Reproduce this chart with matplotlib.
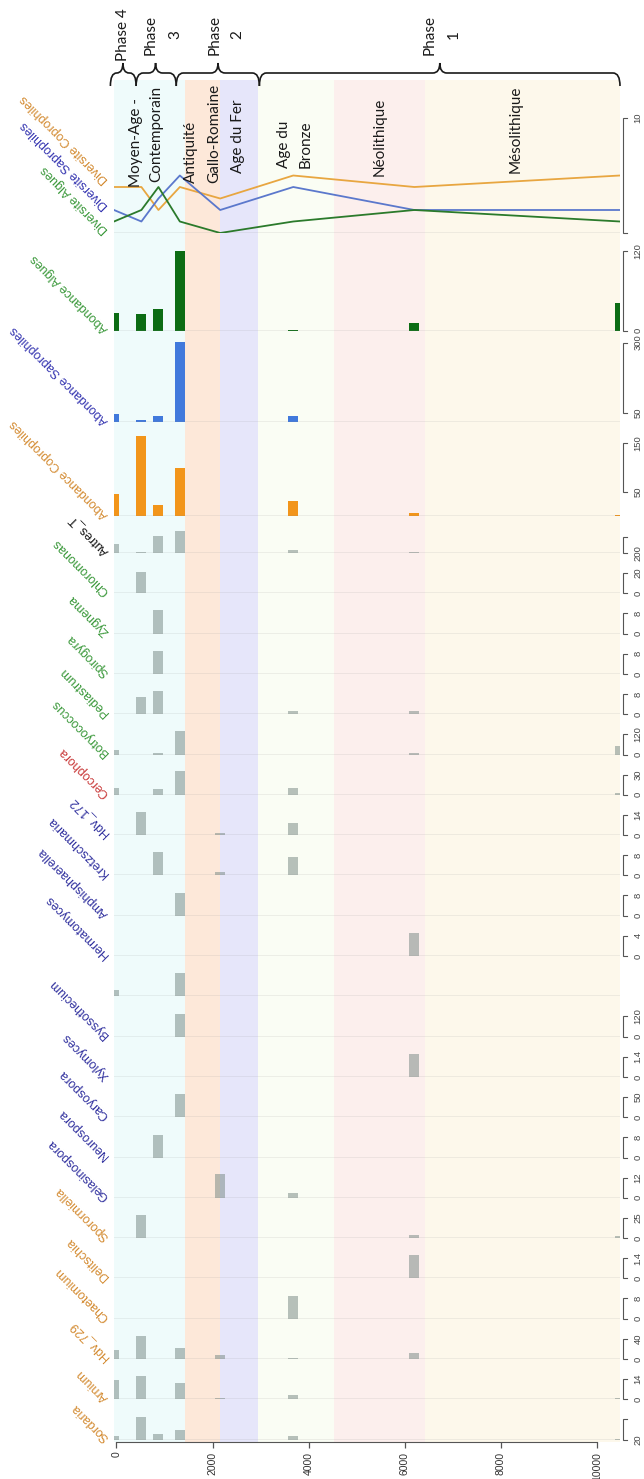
import matplotlib
matplotlib.use("Agg")
import matplotlib.pyplot as plt
import matplotlib.transforms as mtransforms
from matplotlib.path import Path
from matplotlib.patches import PathPatch

# ---------------------------------------------------------------- data
ages = [-50, 520, 875, 1320, 2160, 3680, 6200, 10480]   # cal BP of the samples
AGE_MIN, AGE_MAX = -50, 10480

period_edges = [-50, 1430, 2150, 2940, 4520, 6425, 10480]
period_colors = ["#effbfb", "#fde8d9", "#e6e6fa", "#fafdf4", "#fcefed", "#fdf8eb"]

# period captions: (text, age of the line, bottom of the text in px)
period_lines = [("Moyen-Age -", 400, 187), ("Contemporain", 824, 182),
                ("Antiquité", 1552, 183), ("Gallo-Romaine", 2031, 183),
                ("Age du Fer", 2530, 173),
                ("Age du", 3480, 168), ("Bronze", 3946, 168),
                ("Néolithique", 5486, 176), ("Mésolithique", 8316, 173)]

phase_spans = [(-125, 410), (410, 1245), (1245, 2975), (2975, 10480)]
phase_tips = [135, 815, 2115, 6730]
phase_lines = [("Phase 4", 127), ("Phase", 720), ("3", 1219), ("Phase", 2041),
               ("2", 2522), ("Phase", 6516), ("1", 7026)]

div_copro = [4, 4, 2, 4, 3, 5, 4, 5]
div_sapro = [2, 1, 3, 5, 2, 4, 2, 2]
div_algues = [1, 2, 4, 1, 0, 1, 2, 1]

abond_algues = [26, 24.5, 33, 120, 0, 0.7, 11.5, 42]
abond_sapro = [44, 25, 37, 302, 0, 39, 18, 0]
abond_copro = [45, 166, 23, 99, 0, 32, 6, 2]
autres_t = [116, 16, 212, 279, 0, 41, 16, 0]

chloromonas = [0, 21, 0, 0, 0, 0, 0, 0]
zygnema = [0, 0, 9.2, 0, 0, 0, 0, 0]
spirogyra = [0, 0, 9.2, 0, 0, 0, 0, 0]
pediastrum = [0, 6.7, 9.1, 0, 0, 1.3, 1.3, 0]
botryococcus = [28, 0, 6, 138, 0, 0, 8, 49]
cercophora = [10, 0, 8, 34.5, 0, 10.5, 0, 2]
hdv_172 = [0, 15.9, 0, 0, 1.2, 8.4, 0, 0]
kretzschmaria = [0, 0, 9.2, 0, 1.3, 7.3, 0, 0]
amphisphaerella = [0, 0, 0, 9.1, 0, 0, 0, 0]
hermatomyces = [0, 0, 0, 0, 0, 0, 4.5, 0]
sans_nom = [2.4, 0, 0, 9.1, 0, 0.1, 0, 0]
byssothecium = [0, 0, 0, 134, 0, 0, 0, 0]
xylomyces = [0, 0, 0, 0, 0, 0, 1.59, 0]
caryospora = [0, 0, 0, 56.7, 0, 0, 0, 0]
neurospora = [0, 0, 8.9, 0, 0, 0, 0, 0]
gelasinospora = [0, 0, 0, 0, 14, 3, 0, 0]
sporormiella = [0, 28.3, 0, 0, 0, 0, 4.2, 2]
delitschia = [0, 0, 0, 0, 0, 0, 1.59, 0]
chaetomium = [0, 0, 0, 0, 0, 9.1, 0, 0]
hdv_729 = [18.7, 46, 0, 21.3, 8.7, 2, 11.3, 0]
arnium = [13.3, 15.9, 0, 11.2, 1.2, 3.3, 0, 1]
sordaria = [3.3, 22.7, 6, 9.3, 0, 3.3, 0, 0.5]

# ---------------------------------------------------------------- style
ORANGE, BLUE, GREEN, RED, BLACK = "#d38a30", "#30309e", "#3a983a", "#c93a3a", "#111111"
BAR_GREY = (0.45, 0.52, 0.50, 0.50)
BASE_GREY = "#8c8c8c"
SANS = ["Liberation Sans", "DejaVu Sans"]
CAPTION = ["Lato", "DejaVu Sans"]

# small taxa strips, top to bottom: (label, values, label colour, scale top)
taxa = [("Chloromonas", chloromonas, GREEN, 20), ("Zygnema", zygnema, GREEN, 8),
        ("Spirogyra", spirogyra, GREEN, 8), ("Pediastrum", pediastrum, GREEN, 8),
        ("Botryococcus", botryococcus, GREEN, 120), ("Cercophora", cercophora, RED, 30),
        ("Hdv_172", hdv_172, BLUE, 14), ("Kretzschmaria", kretzschmaria, BLUE, 8),
        ("Amphisphaerella", amphisphaerella, BLUE, 8), ("Hermatomyces", hermatomyces, BLUE, 4),
        ("", sans_nom, BLUE, None), ("Byssothecium", byssothecium, BLUE, 120),
        ("Xylomyces", xylomyces, BLUE, 1.4), ("Caryospora", caryospora, BLUE, 50),
        ("Neurospora", neurospora, BLUE, 8), ("Gelasinospora", gelasinospora, BLUE, 12),
        ("Sporormiella", sporormiella, ORANGE, 25), ("Delitschia", delitschia, ORANGE, 1.4),
        ("Chaetomium", chaetomium, ORANGE, 8), ("Hdv_729", hdv_729, ORANGE, 40),
        ("Arnium", arnium, ORANGE, 14), ("Sordaria", sordaria, ORANGE, 20)]

# ---------------------------------------------------------------- layout (px)
W, H = 644, 1479
X0, X1 = 114, 620
BAND_TOP, AXIS_Y = 80, 1442
DIV_BASE = 233
FIRST_BASE, STEP = 593.3, 40.3
SCALE_PX = 20.3
BAR_W = 210

fig = plt.figure(figsize=(W / 100, H / 100), dpi=100)
fig.patch.set_facecolor("white")


def px_axes(top, bottom, z=1):
    ax = fig.add_axes([X0 / W, 1 - bottom / H, (X1 - X0) / W, (bottom - top) / H])
    ax.set_xlim(AGE_MIN, AGE_MAX)
    ax.set_axis_off()
    ax.set_zorder(z)
    return ax


def frac(px):
    return (px - X0) / (X1 - X0)


def scale_bracket(ax, lo, hi, labels):
    tr = mtransforms.blended_transform_factory(ax.transAxes, ax.transData)
    xv, xt, xl = frac(623), frac(626.5), frac(638)
    ax.plot([xt, xv, xv, xt], [lo, lo, hi, hi], transform=tr, color="#555555",
            lw=0.8, clip_on=False, solid_joinstyle="miter")
    for val, txt in labels:
        ax.text(xl, val, txt, transform=tr, rotation=90, rotation_mode="anchor",
                ha="center", va="center", fontsize=6.8, color="#444444",
                family=SANS, clip_on=False)


def strip_label(ax, text, color):
    ax.text(frac(107), 0, text, transform=ax.transAxes, rotation=135,
            rotation_mode="anchor", ha="left", va="center", fontsize=9,
            color=color, family=SANS, clip_on=False)


# period bands
ax_bg = px_axes(BAND_TOP, AXIS_Y, 0)
ax_bg.set_ylim(0, 1)
for a, b, c in zip(period_edges[:-1], period_edges[1:], period_colors):
    ax_bg.axvspan(a, b, color=c, lw=0)

# diversity panel
ax_div = px_axes(BAND_TOP, DIV_BASE, 2)
ax_div.set_ylim(0, (DIV_BASE - BAND_TOP) / 11.5)
ax_div.axhline(0, color=BASE_GREY, lw=0.9)
ax_div.plot(ages, div_copro, color="#e8a640", lw=1.3)
ax_div.plot(ages, div_sapro, color="#5b78cc", lw=1.3)
ax_div.plot(ages, div_algues, color="#2b7a2b", lw=1.3)
scale_bracket(ax_div, 0, 10, [(10, "10")])

# abundance panels
ax_alg = px_axes(DIV_BASE, 330.7, 2)
ax_alg.set_ylim(0, 97.7 / (80 / 120))
ax_alg.bar(ages, abond_algues, width=BAR_W, color="#0c6c14")
ax_alg.axhline(0, color=BASE_GREY, lw=0.9)
scale_bracket(ax_alg, 0, 120, [(120, "120"), (0, "0")])
strip_label(ax_alg, "Abondance Algues", GREEN)

ax_sap = px_axes(330.7, 422.3, 2)
ax_sap.set_ylim(15.4, 342.5)
ax_sap.bar(ages, abond_sapro, width=BAR_W, color="#4179dc")
ax_sap.axhline(15.4, color=BASE_GREY, lw=0.9)
scale_bracket(ax_sap, 50, 300, [(300, "300"), (50, "50")])
strip_label(ax_sap, "Abondance Saprophiles", "#3434b0")

ax_cop = px_axes(422.3, 516, 2)
ax_cop.set_ylim(0, 93.7 / 0.484)
ax_cop.bar(ages, abond_copro, width=BAR_W, color="#f2951a")
ax_cop.axhline(0, color=BASE_GREY, lw=0.9)
scale_bracket(ax_cop, 50, 150, [(150, "150"), (50, "50")])
strip_label(ax_cop, "Abondance Coprophiles", ORANGE)

ax_aut = px_axes(516, 553.3, 2)
ax_aut.set_ylim(0, 37.3 * 12.5)
ax_aut.bar(ages, autres_t, width=BAR_W, color=BAR_GREY)
ax_aut.axhline(0, color=BASE_GREY, lw=0.9)
scale_bracket(ax_aut, 0, 200, [(0, "200")])
strip_label(ax_aut, "Autres_T", BLACK)

# one strip per taxon
for k, (name, vals, col, top) in enumerate(taxa):
    base = FIRST_BASE + k * STEP
    ax = px_axes(base - STEP, base, 2)
    ref = top if top is not None else 8
    ax.set_ylim(0, ref * STEP / SCALE_PX)
    ax.bar(ages, vals, width=BAR_W, color=BAR_GREY)
    ax.axhline(0, color=BASE_GREY, lw=0.9)
    if top is not None:
        fmt = f"{top:g}"
        if name == "Sordaria":
            scale_bracket(ax, 0, top, [(0, fmt)])
        else:
            scale_bracket(ax, 0, top, [(top, fmt), (0, "0")])
    if name:
        strip_label(ax, name, col)

# age axis
ax_x = fig.add_axes([X0 / W, 1 - AXIS_Y / H, (X1 - X0) / W, 1e-4])
ax_x.set_xlim(AGE_MIN, AGE_MAX)
ax_x.patch.set_visible(False)
for s in ("top", "left", "right"):
    ax_x.spines[s].set_visible(False)
ax_x.spines["bottom"].set_bounds(0, 10000)
ax_x.spines["bottom"].set_color("#555555")
ax_x.set_yticks([])
ax_x.set_xticks(range(0, 10001, 2000))
ax_x.tick_params(axis="x", direction="out", length=4, width=0.9, color="#555555",
                 pad=3, labelsize=7.5, labelcolor="#333333", labelrotation=90)
for t in ax_x.get_xticklabels():
    t.set_family(SANS)

# overlay in pixel units: phases, periods, diversity captions
ov = fig.add_axes([0, 0, 1, 1])
ov.set_xlim(0, W)
ov.set_ylim(H, 0)
ov.set_axis_off()
ov.set_zorder(10)


def px_of_age(a):
    return X0 + (a - AGE_MIN) * (X1 - X0) / (AGE_MAX - AGE_MIN)


def brace(xa, xb, xt, y_end=86, y_mid=73, y_tip=63, r=7):
    verts = [(xa, y_end), (xa, y_mid), (xa + r, y_mid),
             (xt - r, y_mid), (xt, y_mid), (xt, y_tip),
             (xt, y_mid), (xt + r, y_mid),
             (xb - r, y_mid), (xb, y_mid), (xb, y_end)]
    codes = [Path.MOVETO, Path.CURVE3, Path.CURVE3, Path.LINETO, Path.CURVE3, Path.CURVE3,
             Path.CURVE3, Path.CURVE3, Path.LINETO, Path.CURVE3, Path.CURVE3]
    ov.add_patch(PathPatch(Path(verts, codes), fill=False, lw=1.2, ec="#1a1a1a"))


for (a, b), t in zip(phase_spans, phase_tips):
    xa, xb, xt = px_of_age(a), px_of_age(b), px_of_age(t)
    brace(xa, xb, xt, r=min(7, (xt - xa) / 2, (xb - xt) / 2))

for txt, a in phase_lines:
    ov.text(px_of_age(a), 35, txt, rotation=90, rotation_mode="anchor", ha="center",
            va="center", fontsize=11, color="#1a1a1a", family=CAPTION)

for txt, a, yb in period_lines:
    ov.text(px_of_age(a), yb, txt, rotation=90, rotation_mode="anchor", ha="left",
            va="center", fontsize=11, color="#1a1a1a", family=CAPTION)

for txt, col, y in [("Diversite Coprophiles", ORANGE, 181),
                    ("Diversite Saprophiles", "#3434b0", 207),
                    ("Diversite Algues", GREEN, 231)]:
    ov.text(107, y, txt, rotation=135, rotation_mode="anchor", ha="left",
            va="center", fontsize=9, color=col, family=SANS)

fig.savefig("out.png", dpi=100, facecolor="white")
